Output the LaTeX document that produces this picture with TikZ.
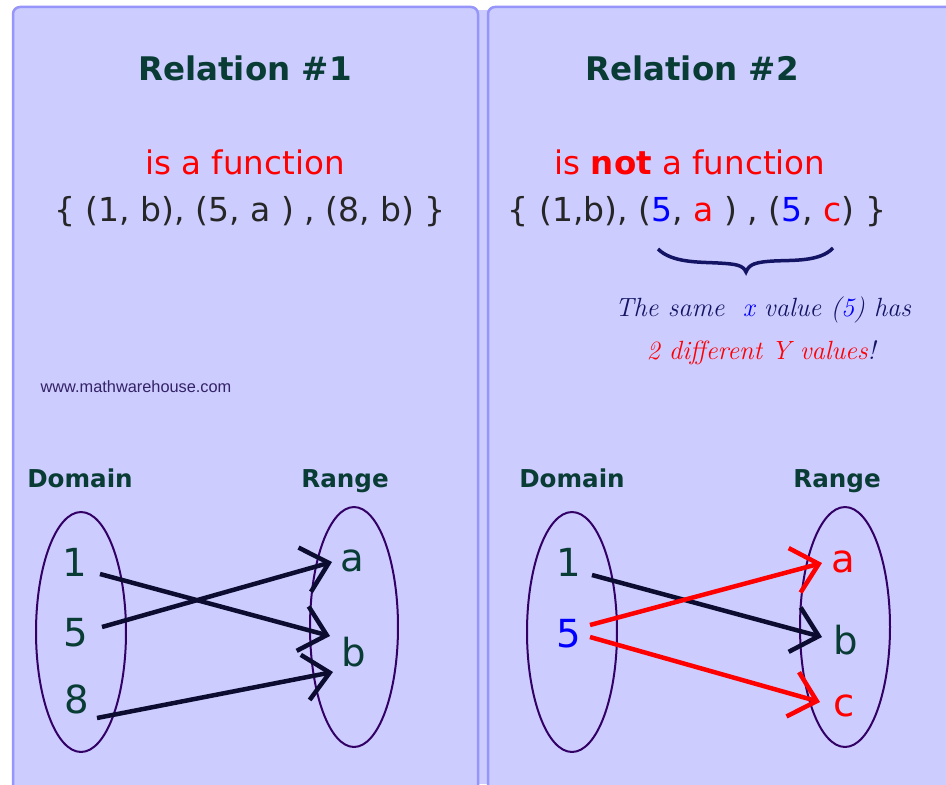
\documentclass[tikz,border=0pt]{standalone}
\usepackage{fontspec}
\setsansfont{DejaVu Sans}
\newfontfamily\webfont{Liberation Sans}
\usepackage{xcolor}
\usepackage{tikz}
\usetikzlibrary{shapes.geometric, arrows.meta, positioning, calc}
\definecolor{panelfill}{RGB}{204,204,255}
\definecolor{paneledge}{RGB}{150,150,250}
\definecolor{headteal}{RGB}{8,60,52}
\definecolor{setred}{RGB}{255,0,0}
\definecolor{setblue}{RGB}{0,0,255}
\definecolor{ovalpurple}{RGB}{51,0,102}
\definecolor{arrowdark}{RGB}{12,12,48}
\definecolor{notenavy}{RGB}{20,20,100}
\definecolor{webpurple}{RGB}{51,34,102}

\begin{document}
\begin{tikzpicture}[
    x=0.02cm, y=-0.02cm,
    every node/.style={inner sep=0pt},
    panel/.style={fill=panelfill, draw=paneledge, line width=0.05cm, rounded corners=0.14cm},
    heading/.style={font=\sffamily\bfseries\fontsize{18.5}{22}\selectfont, text=headteal},
    verdict/.style={font=\sffamily\fontsize{18.5}{22}\selectfont, text=setred},
    pairs/.style={font=\sffamily\fontsize{18.8}{22}\selectfont, text=black!85},
    setlabel/.style={font=\sffamily\bfseries\fontsize{14}{16}\selectfont, text=headteal, anchor=base},
    oval/.style={ellipse, draw=ovalpurple, line width=0.04cm, minimum width=1.8cm, minimum height=4.8cm},
    elem/.style={font=\sffamily\fontsize{22}{26}\selectfont, text=headteal},
    note/.style={font=\itshape\fontsize{15}{18}\selectfont, text=notenavy},
    arrow/.style={-{Straight Barb[length=0.5cm, width=0.92cm]}, line width=0.09cm, line join=miter, arrowdark},
    redarrow/.style={arrow, setred}
]
\useasboundingbox (0,0) rectangle (946,784);
\clip (0,0) rectangle (946,784);
\fill[white] (0,0) rectangle (946,784);
\fill[panelfill] (476,10) rectangle (490,784);
\draw[panel] (13,7) rectangle (478,810);
\draw[panel] (488,7) rectangle (980,810);

% relation 1
\node[heading] (title_one) at (245,68) {Relation \#1};
\node[verdict] (verdict_one) at (245,162) {is a function};
\node[pairs] (pairs_one) at (250,212) {\{ (1, b), (5, a ) , (8, b) \}};
\node[font=\webfont\fontsize{9.3}{11}\selectfont, text=webpurple] (web) at (136,387) {www.mathwarehouse.com};
\node[setlabel] (dom_one) at (80,487) {Domain};
\node[setlabel] (rng_one) at (345,487) {Range};
\node[oval] (dom_one_oval) at (81,632) {};
\node[oval, minimum width=1.76cm] (rng_one_oval) at (354,627) {};
\node[elem] (d_one) at (75,562) {1};
\node[elem] (d_five) at (76,633) {5};
\node[elem] (d_eight) at (77,699) {8};
\node[elem] (r_a) at (352,561) {a};
\node[elem] (r_b) at (354,652) {b};
\draw[arrow] ($(d_one)+(25,12)$) -- ($(r_b)+(-24,-16)$);
\draw[arrow] ($(d_five)+(26,-6)$) -- ($(r_a)+(-20,1)$);
\draw[arrow] ($(d_eight)+(20,19)$) -- ($(r_b)+(-21,20)$);

% relation 2
\node[heading] (title_two) at (692,68) {Relation \#2};
\node[verdict] (verdict_two) at (690,162) {is \textbf{not} a function};
\node[pairs] (pairs_two) at (697,212) {\{ (1,b), ({\color{setblue}5}, {\color{setred}a} ) , ({\color{setblue}5}, {\color{setred}c}) \}};
\draw[notenavy, line width=0.07cm] (658,249) .. controls (672,263) and (700,262) .. (718,263)
    .. controls (736,264) and (743,265) .. (746,272)
    .. controls (749,264) and (756,262) .. (774,261)
    .. controls (792,260) and (820,262) .. (833,248);
\node[note] (note_top) at (763,310) {The same\ \ {\color{setblue}x} value ({\color{setblue}5}) has};
\node[note, text=setred] (note_bot) at (761,353) {2 different Y values{\color{notenavy}!}};
\node[setlabel] (dom_two) at (572,487) {Domain};
\node[setlabel] (rng_two) at (837,487) {Range};
\node[oval] (dom_two_oval) at (572,632) {};
\node[oval] (rng_two_oval) at (845,627) {};
\node[elem] (e_one) at (569,562) {1};
\node[elem, text=setblue] (e_five) at (569,634) {5};
\node[elem, text=setred] (f_a) at (843,562) {a};
\node[elem] (f_b) at (846,640) {b};
\node[elem, text=setred] (f_c) at (844,706) {c};
\draw[arrow] ($(e_one)+(23,13)$) -- ($(f_b)+(-24,-3)$);
\draw[redarrow] ($(e_five)+(21,-9)$) -- ($(f_a)+(-21,1)$);
\draw[redarrow] ($(e_five)+(21,3)$) -- ($(f_c)+(-24,-4)$);
\end{tikzpicture}
\end{document}
